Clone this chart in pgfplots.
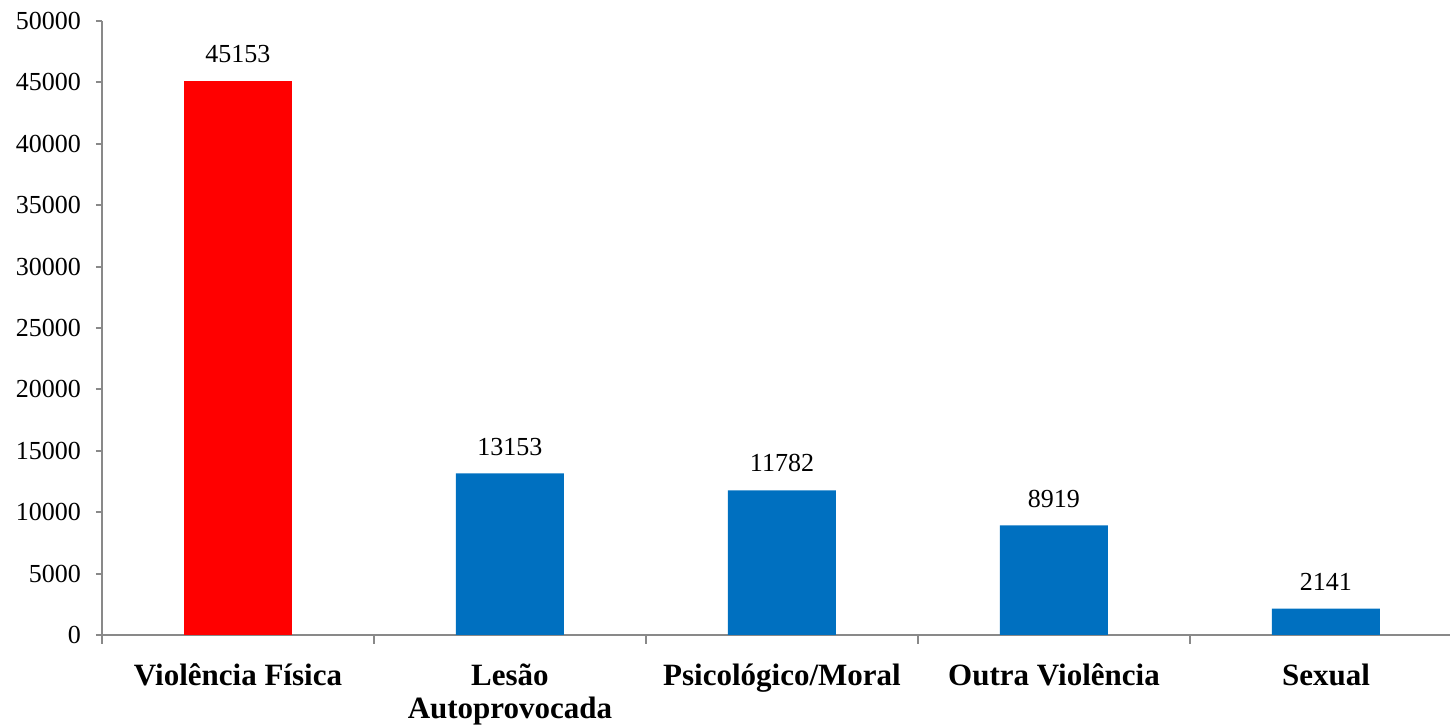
\documentclass[border=0pt]{standalone}
\usepackage{fontspec}
\setmainfont{Liberation Serif}
\usepackage{pgfplots}
\pgfplotsset{compat=1.18}
\usetikzlibrary{calc}
\definecolor{barred}{RGB}{255,0,0}
\definecolor{barblue}{RGB}{0,112,192}
\definecolor{axgray}{RGB}{137,137,137}

\begin{document}
\begin{tikzpicture}
\begin{axis}[
  name=ax,
  scale only axis,
  width=674pt, height=307pt,
  ybar, bar width=54pt, bar shift=0pt,
  xmin=-0.5, xmax=4.456,
  ymin=0, ymax=50000,
  ytick={0,5000,...,50000},
  scaled y ticks=false,
  xtick={0,1,2,3,4},
  xticklabels={Violência Física, Lesão\\Autoprovocada, Psicológico/Moral, Outra Violência, Sexual},
  minor xtick={-0.5,0.5,1.5,2.5,3.5},
  major x tick style={draw=none},
  minor tick length=4.5pt,
  major tick length=3pt,
  tick align=outside,
  axis x line*=bottom, axis y line*=left,
  axis line style={axgray, line width=1pt, -},
  tick style={axgray, line width=1pt},
  /pgf/number format/1000 sep={},
  /pgf/number format/assume math mode=true,
  yticklabel style={font=\fontsize{13}{15}\selectfont, xshift=-4pt, /pgf/number format/1000 sep={}},
  xticklabel style={font=\bfseries\fontsize{15.5}{16.5}\selectfont, align=center, yshift=-8pt},
  nodes near coords,
  every node near coord/.append style={font=\fontsize{13}{15}\selectfont, yshift=5.5pt, /pgf/number format/1000 sep={}},
  clip=false,
]
\addplot[fill=barred, draw=none] coordinates {(0,45153)};
\addplot[fill=barblue, draw=none] coordinates {(1,13153) (2,11782) (3,8919) (4,2141)};
\end{axis}
\pgfresetboundingbox
\path[use as bounding box] ($(ax.south west)+(-51pt,-45pt)$) rectangle ($(ax.north east)+(0,10.5pt)$);
\end{tikzpicture}
\end{document}
